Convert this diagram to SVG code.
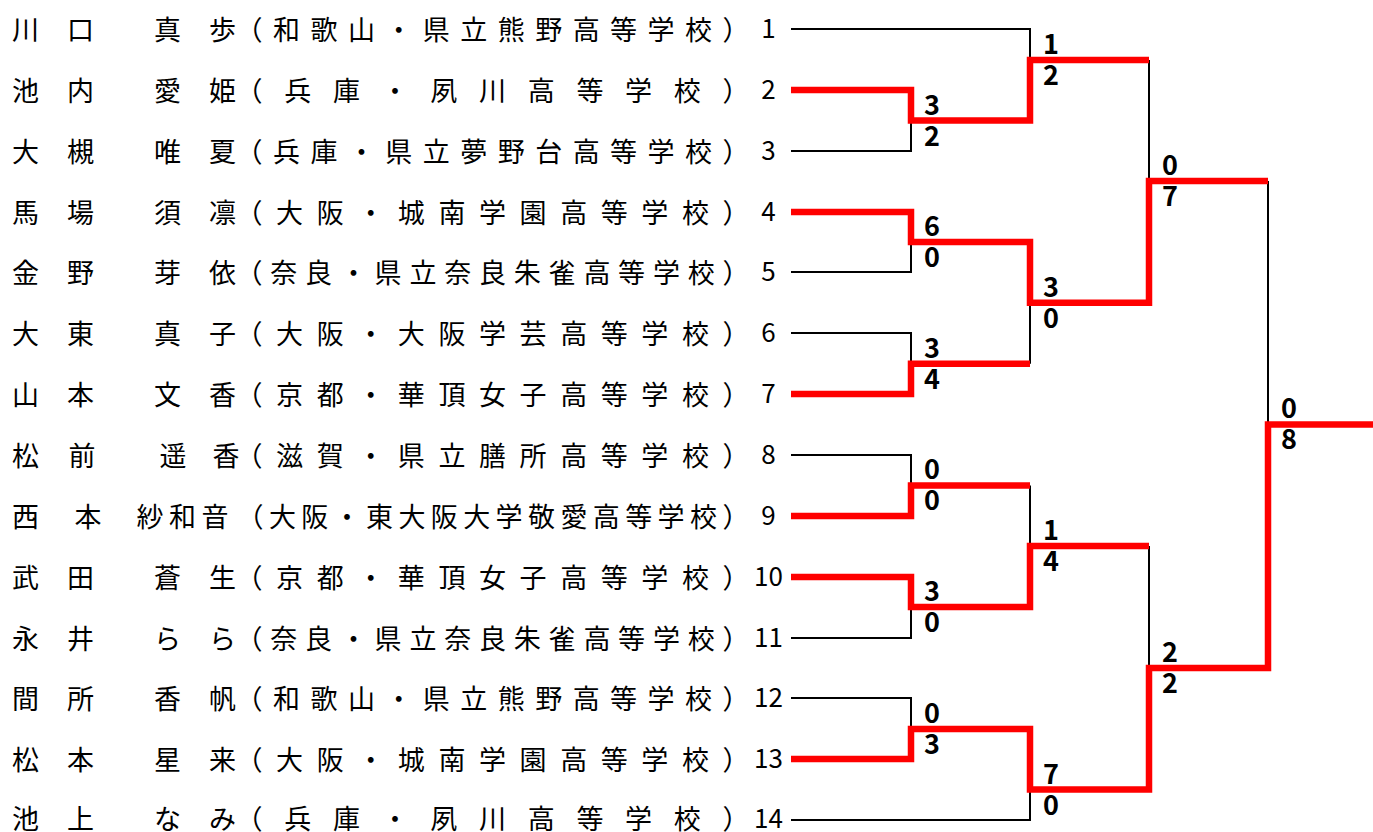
<svg xmlns="http://www.w3.org/2000/svg" width="1373" height="832" viewBox="0 0 1373 832">
<style>
.n{font-family:"Noto Sans CJK JP","Noto Sans",sans-serif;font-size:27px;fill:#000;text-anchor:middle}
.num{font-family:"Noto Sans CJK JP","Noto Sans",sans-serif;font-size:26px;fill:#000;text-anchor:middle}
.sc{font-family:"Noto Sans CJK JP","Noto Sans",sans-serif;font-size:27px;font-weight:bold;fill:#000}
.bk{fill:none;stroke:#000;stroke-width:2}
.rd{fill:none;stroke:#f00;stroke-width:6.5;stroke-linejoin:miter}
</style>
<rect width="1373" height="832" fill="#fff"/>
<g id="players">
<g id="p1">
<text class="n" x="25.5 80.5" y="40">川口</text>
<text class="n" x="167.5 222.5" y="40">真歩</text>
<text class="n" x="249 286.5 323.9 361.4 398.8 436.3 473.8 511.2 548.7 586.2 623.6 661.1 698.5 736" y="40">（和歌山・県立熊野高等学校）</text>
<text class="num" x="768.5" y="37.5">1</text>
</g>
<g id="p2">
<text class="n" x="25.5 80.5" y="101">池内</text>
<text class="n" x="167.5 222.5" y="101">愛姫</text>
<text class="n" x="249 297.7 346.4 395.1 443.8 492.5 541.2 589.9 638.6 687.3 736" y="101">（兵庫・夙川高等学校）</text>
<text class="num" x="768.5" y="98.5">2</text>
</g>
<g id="p3">
<text class="n" x="25.5 80.5" y="162">大槻</text>
<text class="n" x="167.5 222.5" y="162">唯夏</text>
<text class="n" x="249 286.5 323.9 361.4 398.8 436.3 473.8 511.2 548.7 586.2 623.6 661.1 698.5 736" y="162">（兵庫・県立夢野台高等学校）</text>
<text class="num" x="768.5" y="159.5">3</text>
</g>
<g id="p4">
<text class="n" x="25.5 80.5" y="223">馬場</text>
<text class="n" x="167.5 222.5" y="223">須凛</text>
<text class="n" x="249 289.6 330.2 370.8 411.3 451.9 492.5 533.1 573.7 614.3 654.8 695.4 736" y="223">（大阪・城南学園高等学校）</text>
<text class="num" x="768.5" y="220.5">4</text>
</g>
<g id="p5">
<text class="n" x="25.5 80.5" y="283">金野</text>
<text class="n" x="167.5 222.5" y="283">芽依</text>
<text class="n" x="249 283.8 318.6 353.4 388.1 422.9 457.7 492.5 527.3 562.1 596.9 631.6 666.4 701.2 736" y="283">（奈良・県立奈良朱雀高等学校）</text>
<text class="num" x="768.5" y="280.5">5</text>
</g>
<g id="p6">
<text class="n" x="25.5 80.5" y="344">大東</text>
<text class="n" x="167.5 222.5" y="344">真子</text>
<text class="n" x="249 289.6 330.2 370.8 411.3 451.9 492.5 533.1 573.7 614.3 654.8 695.4 736" y="344">（大阪・大阪学芸高等学校）</text>
<text class="num" x="768.5" y="341.5">6</text>
</g>
<g id="p7">
<text class="n" x="25.5 80.5" y="405">山本</text>
<text class="n" x="167.5 222.5" y="405">文香</text>
<text class="n" x="249 289.6 330.2 370.8 411.3 451.9 492.5 533.1 573.7 614.3 654.8 695.4 736" y="405">（京都・華頂女子高等学校）</text>
<text class="num" x="768.5" y="402.5">7</text>
</g>
<g id="p8">
<text class="n" x="25.5 82" y="466">松前</text>
<text class="n" x="173 226" y="466">遥香</text>
<text class="n" x="249 289.6 330.2 370.8 411.3 451.9 492.5 533.1 573.7 614.3 654.8 695.4 736" y="466">（滋賀・県立膳所高等学校）</text>
<text class="num" x="768.5" y="463.5">8</text>
</g>
<g id="p9">
<text class="n" x="25.5 88" y="527">西本</text>
<text class="n" x="150 182.5 215" y="527">紗和音</text>
<text class="n" x="250 282.4 314.8 347.1 379.5 411.9 444.3 476.7 509.1 541.5 573.9 606.3 638.7 671.1 703.5 736" y="527">（大阪・東大阪大学敬愛高等学校）</text>
<text class="num" x="768.5" y="524.5">9</text>
</g>
<g id="p10">
<text class="n" x="25.5 80.5" y="588">武田</text>
<text class="n" x="167.5 222.5" y="588">蒼生</text>
<text class="n" x="249 289.6 330.2 370.8 411.3 451.9 492.5 533.1 573.7 614.3 654.8 695.4 736" y="588">（京都・華頂女子高等学校）</text>
<text class="num" x="768.5" y="585.5">10</text>
</g>
<g id="p11">
<text class="n" x="25.5 80.5" y="649">永井</text>
<text class="n" x="167.5 222.5" y="649">らら</text>
<text class="n" x="249 283.8 318.6 353.4 388.1 422.9 457.7 492.5 527.3 562.1 596.9 631.6 666.4 701.2 736" y="649">（奈良・県立奈良朱雀高等学校）</text>
<text class="num" x="768.5" y="646.5">11</text>
</g>
<g id="p12">
<text class="n" x="25.5 80.5" y="709">間所</text>
<text class="n" x="167.5 222.5" y="709">香帆</text>
<text class="n" x="249 286.5 323.9 361.4 398.8 436.3 473.8 511.2 548.7 586.2 623.6 661.1 698.5 736" y="709">（和歌山・県立熊野高等学校）</text>
<text class="num" x="768.5" y="706.5">12</text>
</g>
<g id="p13">
<text class="n" x="25.5 80.5" y="770">松本</text>
<text class="n" x="167.5 222.5" y="770">星来</text>
<text class="n" x="249 289.6 330.2 370.8 411.3 451.9 492.5 533.1 573.7 614.3 654.8 695.4 736" y="770">（大阪・城南学園高等学校）</text>
<text class="num" x="768.5" y="767.5">13</text>
</g>
<g id="p14">
<text class="n" x="25.5 80.5" y="829">池上</text>
<text class="n" x="167.5 222.5" y="829">なみ</text>
<text class="n" x="249 297.7 346.4 395.1 443.8 492.5 541.2 589.9 638.6 687.3 736" y="829">（兵庫・夙川高等学校）</text>
<text class="num" x="768.5" y="828">14</text>
</g>
</g>
<g id="connectors">
<path class="bk" d="M791 29H1030V60 M791 151H911V120.5 M791 272H911V242 M791 333H911V363.7 M791 455H911V485.4 M791 638H911V607 M791 698H911V729 M791 820H1030V789.6 M1030 363.7V302.8 M1030 485.4V546 M1149 60V181 M1149 546V668 M1268 181V424.5"/>
<path class="rd" d="M791 90H911V120.5H1030V60H1149"/>
<path class="rd" d="M791 212H911V242H1030V302.8H1149V181H1268"/>
<path class="rd" d="M791 394H911V363.7H1030"/>
<path class="rd" d="M791 516H911V485.4H1030"/>
<path class="rd" d="M791 577H911V607H1030V546H1149"/>
<path class="rd" d="M791 759H911V729H1030V789.6H1149V668H1268V424.5H1373"/>
</g>
<g id="scores">
<text class="sc" x="924" y="114.5">3</text><text class="sc" x="924" y="145.5">2</text>
<text class="sc" x="924" y="236">6</text><text class="sc" x="924" y="267">0</text>
<text class="sc" x="924" y="357.7">3</text><text class="sc" x="924" y="388.7">4</text>
<text class="sc" x="924" y="479.4">0</text><text class="sc" x="924" y="510.4">0</text>
<text class="sc" x="924" y="601">3</text><text class="sc" x="924" y="632">0</text>
<text class="sc" x="924" y="723">0</text><text class="sc" x="924" y="754">3</text>
<text class="sc" x="1043" y="54">1</text><text class="sc" x="1043" y="85">2</text>
<text class="sc" x="1043" y="296.8">3</text><text class="sc" x="1043" y="327.8">0</text>
<text class="sc" x="1043" y="540">1</text><text class="sc" x="1043" y="571">4</text>
<text class="sc" x="1043" y="783.6">7</text><text class="sc" x="1043" y="814.6">0</text>
<text class="sc" x="1162" y="175">0</text><text class="sc" x="1162" y="206">7</text>
<text class="sc" x="1162" y="662">2</text><text class="sc" x="1162" y="693">2</text>
<text class="sc" x="1281" y="418">0</text><text class="sc" x="1281" y="449">8</text>
</g>
</svg>
